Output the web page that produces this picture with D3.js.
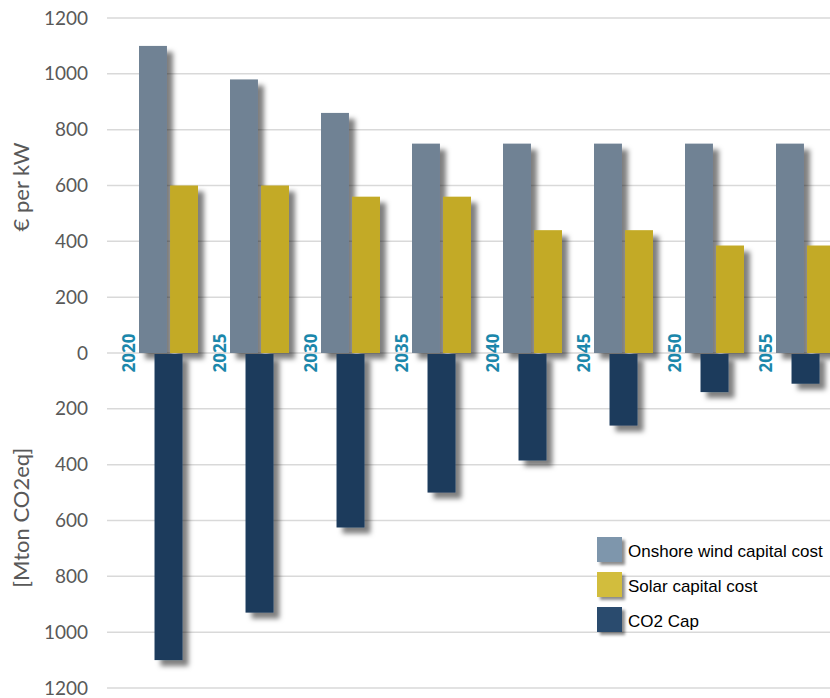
<!DOCTYPE html>
<html>
<head>
<meta charset="utf-8">
<script src="https://cdn.jsdelivr.net/npm/d3@7/dist/d3.min.js"></script>
<style>
  html, body { margin: 0; padding: 0; background: #fff; }
  svg { display: block; }
</style>
</head>
<body>
<svg id="chart" width="830" height="698"></svg>
<script>
const years = ["2020", "2025", "2030", "2035", "2040", "2045", "2050", "2055"];
const windCost = [1100, 980, 860, 750, 750, 750, 750, 750];
const solarCost = [600, 600, 560, 560, 440, 440, 385, 385];
const co2Cap = [1100, 930, 625, 500, 385, 260, 140, 110];
const yTicks = [-1200, -1000, -800, -600, -400, -200, 0, 200, 400, 600, 800, 1000, 1200];
const seriesNames = ["Onshore wind capital cost", "Solar capital cost", "CO2 Cap"];
const seriesColors = ["#708294", "#c3aa27", "#1b3a5b"];
const legendColors = ["#7e96ac", "#d2bd3c", "#2a4b6e"];

const svg = d3.select("#chart");
const defs = svg.append("defs");
const f = defs.append("filter").attr("id", "shadow")
  .attr("x", "-30%").attr("y", "-30%").attr("width", "180%").attr("height", "180%");
f.append("feDropShadow").attr("dx", 6).attr("dy", 6).attr("stdDeviation", 2.5)
  .attr("flood-color", "#000").attr("flood-opacity", 0.5);
const fl = defs.append("filter").attr("id", "shadowL")
  .attr("x", "-30%").attr("y", "-30%").attr("width", "180%").attr("height", "180%");
fl.append("feDropShadow").attr("dx", 3).attr("dy", 3).attr("stdDeviation", 1.5)
  .attr("flood-color", "#000").attr("flood-opacity", 0.45);

const y = d3.scaleLinear().domain([-1200, 1200]).range([688, 18]);
const x0 = d3.scaleBand().domain(years).range([107, 107 + 91 * years.length]).padding(0);
const x1 = d3.scaleBand().domain(["wind", "solar"]).range([32, 91]).paddingInner(0.1).paddingOuter(0);

// gridlines
svg.append("g").selectAll("line").data(yTicks).join("line")
  .attr("x1", 107).attr("x2", 830)
  .attr("y1", d => y(d)).attr("y2", d => y(d))
  .attr("stroke", "#d9d9d9").attr("stroke-width", 1.5);

// y axis
const yAxis = d3.axisLeft(y).tickValues(yTicks).tickSize(0).tickPadding(0)
  .tickFormat(d => Math.abs(d));
const ya = svg.append("g").attr("transform", "translate(88,0)").call(yAxis);
ya.select(".domain").remove();
ya.selectAll("text").attr("font-family", "Lato, 'Open Sans', sans-serif")
  .attr("font-size", 19).attr("fill", "#595959");

// axis titles
svg.append("text").attr("transform", `translate(29,${y(595)}) rotate(-90)`)
  .attr("text-anchor", "middle").attr("font-family", "Lato, 'Open Sans', sans-serif")
  .attr("font-size", 22).attr("fill", "#595959").text("€ per kW");
svg.append("text").attr("transform", `translate(29,${y(-590)}) rotate(-90)`)
  .attr("text-anchor", "middle").attr("font-family", "Lato, 'Open Sans', sans-serif")
  .attr("font-size", 22).attr("fill", "#595959").text("[Mton CO2eq]");

const groups = svg.append("g").selectAll("g").data(years).join("g")
  .attr("transform", d => `translate(${x0(d)},0)`);

// wind
groups.append("rect")
  .attr("x", x1("wind")).attr("width", x1.bandwidth())
  .attr("y", (d, i) => y(windCost[i])).attr("height", (d, i) => y(0) - y(windCost[i]))
  .attr("fill", seriesColors[0]).attr("filter", "url(#shadow)");
// solar
groups.append("rect")
  .attr("x", x1("solar")).attr("width", x1.bandwidth())
  .attr("y", (d, i) => y(solarCost[i])).attr("height", (d, i) => y(0) - y(solarCost[i]))
  .attr("fill", seriesColors[1]).attr("filter", "url(#shadow)");
// co2
groups.append("rect")
  .attr("x", (x1("wind") + x1("solar") + x1.bandwidth()) / 2 - x1.bandwidth() / 2)
  .attr("width", x1.bandwidth())
  .attr("y", y(0) + 1).attr("height", (d, i) => y(-co2Cap[i]) - y(0) - 1)
  .attr("fill", seriesColors[2]).attr("filter", "url(#shadow)");

// year labels
groups.append("text")
  .attr("transform", `translate(21,${y(0)}) rotate(-90)`)
  .attr("text-anchor", "middle").attr("dominant-baseline", "central")
  .attr("font-family", "'Open Sans', sans-serif").attr("font-weight", "bold")
  .attr("font-size", 17).attr("fill", "#1b87ab")
  .text(d => d);

// legend
const lg = svg.append("g").attr("transform", "translate(597,537)");
const items = lg.selectAll("g").data(seriesNames).join("g")
  .attr("transform", (d, i) => `translate(0,${i * 35})`);
items.append("rect").attr("width", 25).attr("height", 25)
  .attr("fill", (d, i) => legendColors[i]).attr("filter", "url(#shadowL)");
items.append("text").attr("x", 31).attr("y", 14).attr("dominant-baseline", "central")
  .attr("font-family", "'Liberation Sans', Arial, sans-serif").attr("font-size", 17)
  .attr("fill", "#000").text(d => d);
</script>
</body>
</html>
